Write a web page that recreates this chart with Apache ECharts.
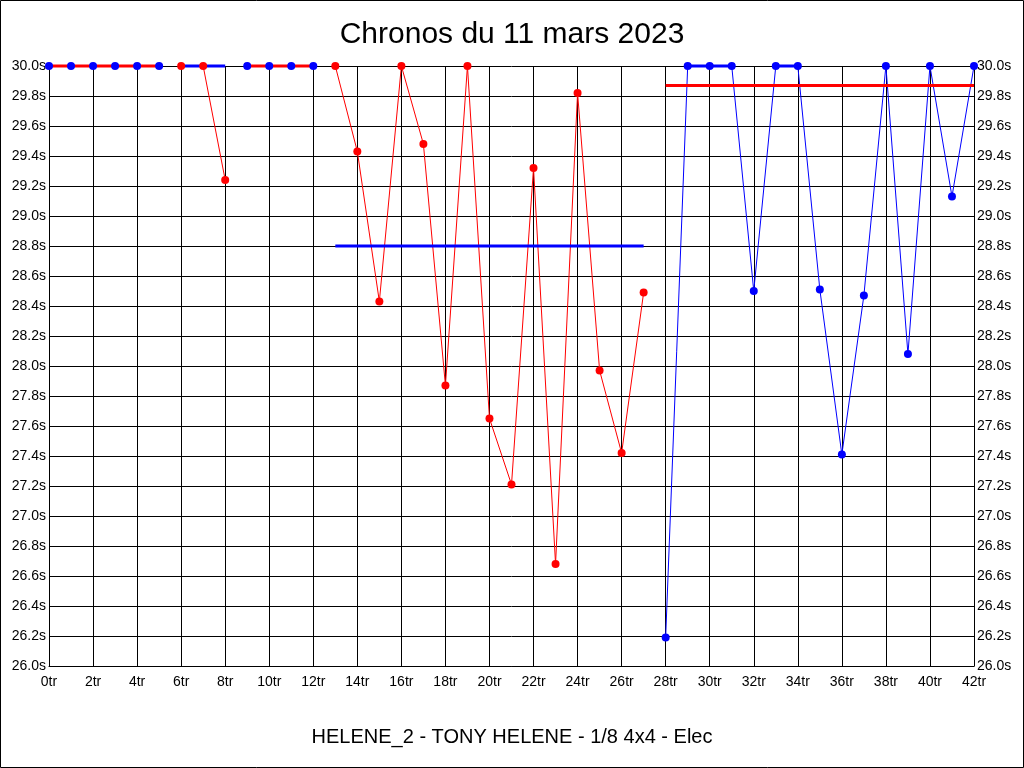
<!DOCTYPE html>
<html>
<head>
<meta charset="utf-8">
<script src="https://cdn.jsdelivr.net/npm/echarts@6/dist/echarts.min.js"></script>
<style>html,body{margin:0;padding:0;background:#fff;}#c{width:1024px;height:768px;}</style>
</head>
<body>
<div id="c"></div>
<script>
// Lap numbers 0..42
const laps = [0,1,2,3,4,5,6,7,8,9,10,11,12,13,14,15,16,17,18,19,20,21,22,23,24,25,26,27,28,29,30,31,32,33,34,35,36,37,38,39,40,41,42];
// Blue driver times (null = not driving)
const blueTimes = [30,30,30,30,30,30,null,null,null,30,30,30,30,null,null,null,null,null,null,null,null,null,null,null,null,null,null,null,26.19,30,30,30,28.5,30,30,28.51,27.41,28.47,30,28.08,30,29.13,30];
// Red driver times
const redTimes = [null,null,null,null,null,null,30,30,29.24,null,null,null,null,30,29.43,28.43,30,29.48,27.87,30,27.65,27.21,29.32,26.68,29.82,27.97,27.42,28.49,null,null,null,null,null,null,null,null,null,null,null,null,null,null,null];
// Stint reference lines
const stintStart = [0,6,9,13,28];
const stintEnd   = [5,8,12,27,42];
const stintRef   = [30,30,30,28.8,29.87];
const stintColorKey = ['red','blue','red','blue','red'];
// Thick blue runs at 30.0s
const runStart = [29,33];
const runEnd   = [31,34];
const runValue = [30,30];
// Axis ticks
const xTickLabels = laps.filter(l => l % 2 === 0).map(l => l + 'tr');
const yMin = 26.0, yMax = 30.0, yStep = 0.2;

const colors = {red:'#ff0000', blue:'#0000ff'};
const font = 'Liberation Sans, Arial, sans-serif';

const pairs = arr => laps.map((l,i) => [l, arr[i]]);
const series = [];
// thin connecting lines
series.push({type:'line', data:pairs(blueTimes), showSymbol:false, connectNulls:false, clip:false, lineStyle:{color:colors.blue,width:1}, z:3, silent:true, animation:false});
series.push({type:'line', data:pairs(redTimes), showSymbol:false, connectNulls:false, clip:false, lineStyle:{color:colors.red,width:1}, z:3, silent:true, animation:false});
// stint lines
stintStart.forEach((s,i) => {
  series.push({type:'line', data:[[s,stintRef[i]],[stintEnd[i],stintRef[i]]], showSymbol:false, clip:false, lineStyle:{color:colors[stintColorKey[i]],width:3}, z:4, silent:true, animation:false});
});
runStart.forEach((s,i) => {
  series.push({type:'line', data:[[s,runValue[i]],[runEnd[i],runValue[i]]], showSymbol:false, clip:false, lineStyle:{color:colors.blue,width:3}, z:4, silent:true, animation:false});
});
// dots
series.push({type:'scatter', data:pairs(blueTimes).filter(p => p[1] != null), symbol:'circle', symbolSize:8, clip:false, itemStyle:{color:colors.blue, opacity:1}, z:6, silent:true, animation:false});
series.push({type:'scatter', data:pairs(redTimes).filter(p => p[1] != null), symbol:'circle', symbolSize:8, clip:false, itemStyle:{color:colors.red, opacity:1}, z:6, silent:true, animation:false});

const yAxisBase = {
  type:'value', min:yMin, max:yMax, interval:yStep,
  axisLine:{show:true, lineStyle:{color:'#000', width:1}},
  axisTick:{show:false},
  axisLabel:{color:'#000', fontFamily:font, fontSize:14, margin:3, showMinLabel:true, showMaxLabel:true,
    formatter: v => v.toFixed(1) + 's'}
};

const chart = echarts.init(document.getElementById('c'), null, {renderer:'canvas'});
chart.setOption({
  animation:false,
  backgroundColor:'#fff',
  title:[
    {text:'Chronos du 11 mars 2023', left:'center', top:15, textStyle:{fontFamily:font, fontSize:30, fontWeight:'normal', color:'#000'}},
    {text:'HELENE_2 - TONY HELENE - 1/8 4x4 - Elec', left:'center', top:722, textStyle:{fontFamily:font, fontSize:20, fontWeight:'normal', color:'#000'}}
  ],
  grid:{left:49, right:50, top:66, bottom:102, containLabel:false},
  xAxis:{type:'value', min:0, max:42, interval:2,
    axisLine:{show:true, onZero:false, lineStyle:{color:'#000'}},
    axisTick:{show:false},
    splitLine:{show:true, lineStyle:{color:'#000', width:1}},
    axisLabel:{color:'#000', fontFamily:font, fontSize:14, margin:9, showMinLabel:true, showMaxLabel:true,
      formatter: v => xTickLabels[Math.round(v/2)]}
  },
  yAxis:[
    Object.assign({}, yAxisBase, {position:'left', splitLine:{show:true, lineStyle:{color:'#000', width:1}}}),
    Object.assign({}, yAxisBase, {position:'right', splitLine:{show:false}})
  ],
  graphic:[{type:'rect', shape:{x:0.5, y:0.5, width:1023, height:767}, style:{fill:null, stroke:'#000', lineWidth:1}, silent:true, z:100}],
  series: series
});
</script>
</body>
</html>
